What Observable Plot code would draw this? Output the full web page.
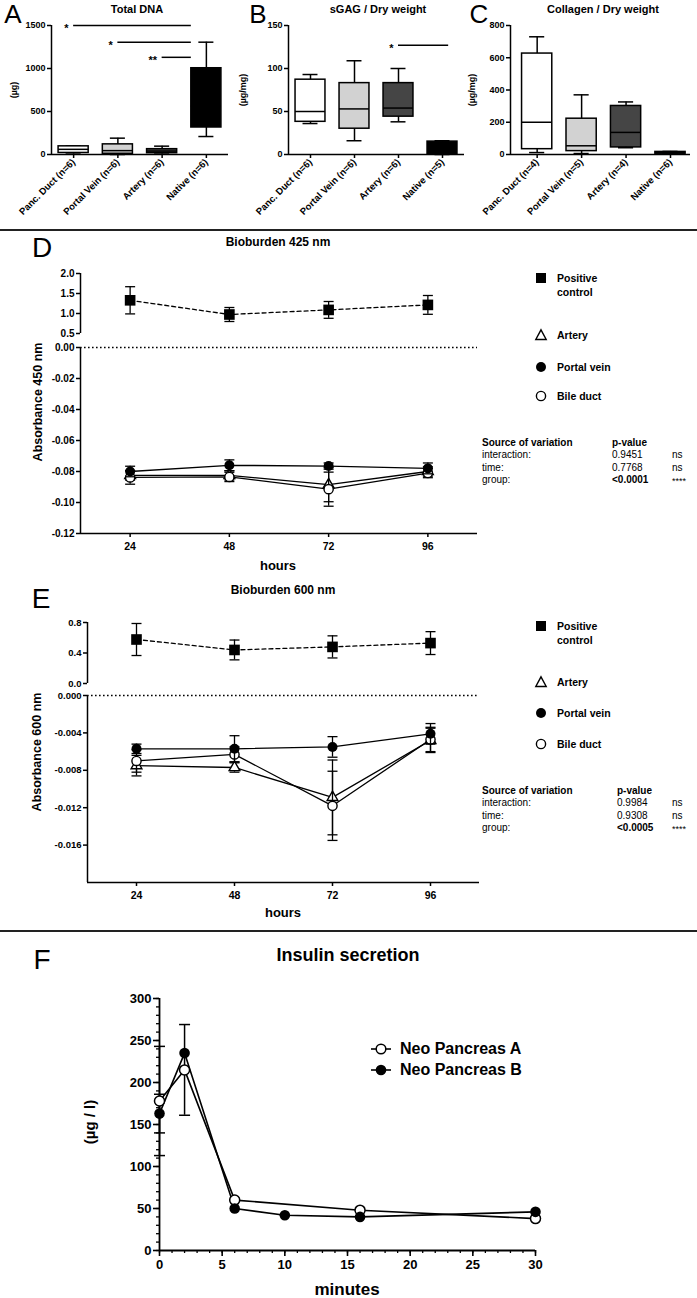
<!DOCTYPE html>
<html><head><meta charset="utf-8">
<script src="https://cdn.jsdelivr.net/npm/d3@7"></script>
<script src="https://cdn.jsdelivr.net/npm/@observablehq/plot@0.6"></script>
<style>
body{margin:0;background:#fff;}
#root{position:relative;width:697px;height:1298px;overflow:hidden;background:#fff;}
</style></head>
<body><div id="root"></div>
<script>
// ---------- DATA ----------
const groups = ["Panc. Duct", "Portal Vein", "Artery", "Native"];
const boxFills = ["#ffffff", "#d2d2d2", "#454545", "#000000"];

// A: Total DNA (µg)
const nA = [6, 6, 6, 6];
const dnaMin = [5, 0, 5, 209];
const dnaQ1 = [18, 8, 15, 314];
const dnaMed = [60, 45, 40, 560];
const dnaQ3 = [95, 118, 62, 1003];
const dnaMax = [100, 190, 97, 1306];
const sigAFrom = ["Panc. Duct", "Portal Vein", "Artery"];
const sigATo = ["Native", "Native", "Native"];
const sigAY = [1500, 1305, 1130];
const sigALabel = ["*", "*", "**"];

// B: sGAG / dry weight (µg/mg)
const nB = [6, 6, 6, 5];
const gagMin = [36, 16, 38, 0];
const gagQ1 = [38, 30, 44, 0];
const gagMed = [50, 53, 54, 13];
const gagQ3 = [87, 83, 83, 15];
const gagMax = [93, 109, 100, 16];
const sigBFrom = ["Artery"];
const sigBTo = ["Native"];
const sigBY = [127];
const sigBLabel = ["*"];

// C: Collagen / dry weight (µg/mg)
const nC = [4, 5, 4, 6];
const colMin = [12, 6, 42, 3];
const colQ1 = [33, 21, 44, 5];
const colMed = [200, 54, 137, 10];
const colQ3 = [626, 222, 301, 16];
const colMax = [730, 370, 326, 19];

// D & E: bioburden
const hours = [24, 48, 72, 96];
const seriesNames = ["Positive control", "Artery", "Portal vein", "Bile duct"];
const d425Pos = [1.33, 0.975, 1.09, 1.215];
const d425PosErr = [0.34, 0.175, 0.21, 0.235];
const d425Artery = [-0.0825, -0.0825, -0.0885, -0.080];
const d425ArteryErr = [0.003, 0.003, 0.011, 0.003];
const d425Portal = [-0.080, -0.076, -0.0765, -0.078];
const d425PortalErr = [0.0034, 0.0035, 0.002, 0.0035];
const d425Bile = [-0.0838, -0.0835, -0.0914, -0.081];
const d425BileErr = [0.0044, 0.003, 0.011, 0.003];

const e600Pos = [0.577, 0.44, 0.48, 0.53];
const e600PosErr = [0.21, 0.13, 0.145, 0.15];
const e600Artery = [-0.0075, -0.0077, -0.0109, -0.0048];
const e600ArteryErr = [0.0011, 0.0005, 0.004, 0.0013];
const e600Portal = [-0.0057, -0.0057, -0.0055, -0.0041];
const e600PortalErr = [0.0005, 0.0014, 0.0011, 0.0011];
const e600Bile = [-0.0070, -0.0063, -0.0118, -0.0047];
const e600BileErr = [0.0012, 0.0008, 0.0037, 0.0013];

const anovaSources = ["interaction:", "time:", "group:"];
const anovaDp = ["0.9451", "0.7768", "<0.0001"];
const anovaDsig = ["ns", "ns", "****"];
const anovaEp = ["0.9984", "0.9308", "<0.0005"];
const anovaEsig = ["ns", "ns", "****"];

// F: insulin secretion
const minutesA = [0, 2, 6, 16, 30];
const insulinA = [178, 215, 60, 48, 38];
const insulinAErr = [65, 54, 0, 0, 0];
const minutesB = [0, 2, 6, 10, 16, 30];
const insulinB = [163, 235, 50, 42, 40, 46];
const insulinBErr = [23, 0, 0, 0, 0, 0];
const insulinNames = ["Neo Pancreas A", "Neo Pancreas B"];

// ---------- HELPERS ----------
const FONT = '"Liberation Sans", Arial, Helvetica, sans-serif';
const root = document.getElementById("root");
function place(node, left, top) {
  node.style.position = "absolute";
  node.style.left = left + "px";
  node.style.top = top + "px";
  root.appendChild(node);
}
function txt(text, x, y, o = {}) {
  const d = document.createElement("div");
  d.textContent = text;
  Object.assign(d.style, {
    position: "absolute", left: x + "px", top: y + "px", whiteSpace: "nowrap",
    fontFamily: FONT, fontSize: (o.size || 10) + "px", fontWeight: o.weight || "bold",
    lineHeight: "1", color: "#000",
    transform: `translate(${o.ax ?? -50}%, -50%)` + (o.rot ? ` rotate(${o.rot}deg)` : "")
  });
  root.appendChild(d);
  return d;
}
function hline(y, h) {
  const d = document.createElement("div");
  Object.assign(d.style, {position: "absolute", left: "0px", width: "697px", top: y + "px", height: h + "px", background: "#222"});
  root.appendChild(d);
}
function icon(kind, cx, cy) {
  const ns = "http://www.w3.org/2000/svg";
  const s = document.createElementNS(ns, "svg");
  const W = kind.startsWith("line") ? 24 : 14;
  s.setAttribute("width", W); s.setAttribute("height", 14);
  s.style.position = "absolute"; s.style.left = (cx - W / 2) + "px"; s.style.top = (cy - 7) + "px";
  let inner = "";
  if (kind === "square") inner = `<rect x="2" y="2" width="10" height="10" fill="#000"/>`;
  if (kind === "triangle") inner = `<path d="M7,1.8 L12.2,11.5 L1.8,11.5 Z" fill="#fff" stroke="#000" stroke-width="1.4"/>`;
  if (kind === "dot") inner = `<circle cx="7" cy="7" r="5" fill="#000"/>`;
  if (kind === "circle") inner = `<circle cx="7" cy="7" r="4.6" fill="#fff" stroke="#000" stroke-width="1.4"/>`;
  if (kind === "lineCircle") inner = `<line x1="2" x2="22" y1="7" y2="7" stroke="#000" stroke-width="1.6"/><circle cx="12" cy="7" r="4.8" fill="#fff" stroke="#000" stroke-width="1.5"/>`;
  if (kind === "lineDot") inner = `<line x1="2" x2="22" y1="7" y2="7" stroke="#000" stroke-width="1.6"/><circle cx="12" cy="7" r="5.3" fill="#000"/>`;
  s.innerHTML = inner;
  root.appendChild(s);
}
const capSymbol = {draw(ctx, size) { const w = Math.sqrt(size / Math.PI); ctx.moveTo(-w, 0); ctx.lineTo(w, 0); }};
const baseStyle = (fs) => `background:transparent;overflow:visible;font-family:${FONT};font-size:${fs}px;font-weight:bold;color:#000;`;

// ---------- TOP ROW: BOX PLOTS ----------
function boxPanel(cfg) {
  const rows = groups.map((g, i) => ({i, min: cfg.mins[i], q1: cfg.q1s[i], med: cfg.meds[i], q3: cfg.q3s[i], max: cfg.maxs[i], fill: boxFills[i]}));
  const hw = 0.34, cw = 0.17;
  const sig = (cfg.sigFrom || []).map((f, k) => ({x1: groups.indexOf(f), x2: groups.indexOf(cfg.sigTo[k]) + cfg.sigEnd, y: cfg.sigY[k], label: cfg.sigLabel[k]}));
  const p = Plot.plot({
    width: cfg.width, height: 215,
    marginLeft: cfg.marginLeft, marginRight: cfg.marginRight, marginTop: 25, marginBottom: 61,
    style: baseStyle(9),
    x: {domain: cfg.xDomain}, y: {domain: [0, cfg.yMax]},
    color: {type: "identity"},
    marks: [
      Plot.ruleX(rows, {x: "i", y1: "min", y2: "max", strokeWidth: 1.5}),
      Plot.ruleY(rows, {x1: d => d.i - cw, x2: d => d.i + cw, y: "max", strokeWidth: 1.5}),
      Plot.ruleY(rows, {x1: d => d.i - cw, x2: d => d.i + cw, y: "min", strokeWidth: 1.5}),
      Plot.rectY(rows, {x1: d => d.i - hw, x2: d => d.i + hw, y1: "q1", y2: "q3", fill: "fill", stroke: "#000", strokeWidth: 1.5}),
      Plot.ruleY(rows, {x1: d => d.i - hw, x2: d => d.i + hw, y: "med", strokeWidth: 1.5}),
      Plot.ruleY(sig, {x1: "x1", x2: "x2", y: "y", strokeWidth: 1.5}),
      Plot.text(sig, {x: "x1", y: "y", text: "label", textAnchor: "end", dx: -5, dy: 3, fontSize: 11}),
      Plot.axisY({ticks: cfg.yTicks, tickFormat: d => String(d), tickSize: 4, tickPadding: 2, label: null, strokeWidth: 1.5}),
      Plot.axisX({ticks: [0, 1, 2, 3], tickFormat: i => `${groups[i]} (n=${cfg.ns[i]})`, tickRotate: -45, tickSize: 4, tickPadding: 2, label: null, fontSize: 9.5, strokeWidth: 1.5}),
      Plot.ruleY([0], {strokeWidth: 1.5}),
      Plot.ruleX([cfg.xDomain[0]], {strokeWidth: 1.5})
    ]
  });
  place(p, cfg.left, 0);
}
boxPanel({left: 0, width: 232, marginLeft: 51, marginRight: 4, xDomain: [-0.5, 3.5], yMax: 1500, yTicks: [0, 500, 1000, 1500],
  mins: dnaMin, q1s: dnaQ1, meds: dnaMed, q3s: dnaQ3, maxs: dnaMax, ns: nA,
  sigFrom: sigAFrom, sigTo: sigATo, sigY: sigAY, sigLabel: sigALabel, sigEnd: -0.34});
boxPanel({left: 232, width: 232, marginLeft: 56, marginRight: 0, xDomain: [-0.5, 3.5], yMax: 150, yTicks: [0, 50, 100, 150],
  mins: gagMin, q1s: gagQ1, meds: gagMed, q3s: gagQ3, maxs: gagMax, ns: nB,
  sigFrom: sigBFrom, sigTo: sigBTo, sigY: sigBY, sigLabel: sigBLabel, sigEnd: 0.14});
boxPanel({left: 464, width: 233, marginLeft: 46, marginRight: 7, xDomain: [-0.6, 3.45], yMax: 800, yTicks: [0, 200, 400, 600, 800],
  mins: colMin, q1s: colQ1, meds: colMed, q3s: colQ3, maxs: colMax, ns: nC});

txt("A", 13, 14, {size: 26, weight: "normal"});
txt("B", 258, 14, {size: 26, weight: "normal"});
txt("C", 479, 14, {size: 26, weight: "normal"});
txt("Total DNA", 137, 9, {size: 11});
txt("sGAG / Dry weight", 378, 9, {size: 11});
txt("Collagen / Dry weight", 603, 9, {size: 11});
txt("(µg)", 14, 90, {size: 9, rot: -90});
txt("(µg/mg)", 243, 90, {size: 9, rot: -90});
txt("(µg/mg)", 472, 90, {size: 9, rot: -90});
hline(229, 2);

// ---------- D / E : BROKEN-AXIS LINE CHARTS ----------
function rowsOf(xs, ys, es) { return xs.map((x, k) => ({x, y: ys[k], e: es[k]})); }
function seriesMarks(rows, symbol, fill, r, dash) {
  return [
    Plot.line(rows, {x: "x", y: "y", stroke: "#000", strokeWidth: 1.3, strokeDasharray: dash || null}),
    Plot.ruleX(rows, {x: "x", y1: d => d.y - d.e, y2: d => d.y + d.e, strokeWidth: 1.3}),
    Plot.dot(rows, {x: "x", y: d => d.y + d.e, symbol: capSymbol, r: 5, stroke: "#000", strokeWidth: 1.3}),
    Plot.dot(rows, {x: "x", y: d => d.y - d.e, symbol: capSymbol, r: 5, stroke: "#000", strokeWidth: 1.3}),
    Plot.dot(rows, {x: "x", y: "y", symbol, r, fill, stroke: "#000", strokeWidth: fill === "#000" ? 0 : 1.4})
  ];
}
function brokenPanel(cfg) {
  const top = Plot.plot({
    width: 490, height: cfg.topH, marginLeft: cfg.mL, marginRight: 490 - cfg.xEnd, marginTop: 10, marginBottom: 10,
    style: baseStyle(cfg.fs),
    x: {domain: [12, 108], axis: null}, y: {domain: cfg.topDomain},
    marks: [
      Plot.axisY({ticks: cfg.topTicks, tickFormat: d => d.toFixed(1), tickSize: 4, tickPadding: 2, label: null, strokeWidth: 1.5}),
      Plot.ruleX([12], {strokeWidth: 1.5}),
      ...seriesMarks(rowsOf(hours, cfg.pos, cfg.posErr), "square", "#000", 6, "4,3")
    ]
  });
  place(top, 0, cfg.topY);
  const bot = Plot.plot({
    width: 490, height: cfg.botH, marginLeft: cfg.mL, marginRight: 490 - cfg.xEnd, marginTop: 10, marginBottom: cfg.botMB,
    style: baseStyle(cfg.fs),
    x: {domain: [12, 108]}, y: {domain: cfg.botDomain},
    marks: [
      Plot.axisY({ticks: cfg.botTicks, tickFormat: d => d.toFixed(cfg.dec), tickSize: 4, tickPadding: 2, label: null, strokeWidth: 1.5}),
      Plot.axisX({ticks: hours, tickSize: 4, tickPadding: 5, label: null, strokeWidth: 1.5, fontSize: 10.5}),
      Plot.ruleX([12], {strokeWidth: 1.5}),
      Plot.ruleY([cfg.botDomain[0]], {strokeWidth: 1.5}),
      Plot.ruleY([0], {strokeWidth: 1.6, strokeDasharray: "1.6,2.4"}),
      ...seriesMarks(rowsOf(hours, cfg.art, cfg.artErr), "triangle", "#fff", 4),
      ...seriesMarks(rowsOf(hours, cfg.bile, cfg.bileErr), "circle", "#fff", 4.6),
      ...seriesMarks(rowsOf(hours, cfg.por, cfg.porErr), "circle", "#000", 5)
    ]
  });
  place(bot, 0, cfg.botY);
}
brokenPanel({topY: 263, topH: 80, botY: 337, botH: 243, botMB: 47, mL: 80, xEnd: 477, fs: 10,
  topDomain: [0.5, 2.0], topTicks: [0.5, 1.0, 1.5, 2.0], botDomain: [-0.12, 0], botTicks: [0, -0.02, -0.04, -0.06, -0.08, -0.10, -0.12], dec: 2,
  pos: d425Pos, posErr: d425PosErr, art: d425Artery, artErr: d425ArteryErr, por: d425Portal, porErr: d425PortalErr, bile: d425Bile, bileErr: d425BileErr});
brokenPanel({topY: 612, topH: 81, botY: 685, botH: 245, botMB: 48, mL: 87, xEnd: 479, fs: 9.5,
  topDomain: [0, 0.8], topTicks: [0, 0.4, 0.8], botDomain: [-0.02, 0], botTicks: [0, -0.004, -0.008, -0.012, -0.016], dec: 3,
  pos: e600Pos, posErr: e600PosErr, art: e600Artery, artErr: e600ArteryErr, por: e600Portal, porErr: e600PortalErr, bile: e600Bile, bileErr: e600BileErr});

function legendAndTable(cfg) {
  icon("square", 541, cfg.ly[0]);
  txt("Positive", 557, cfg.ly[0], {size: 10.5, ax: 0});
  txt("control", 557, cfg.ly[0] + 14, {size: 10.5, ax: 0});
  icon("triangle", 541, cfg.ly[1]);
  txt(seriesNames[1], 557, cfg.ly[1], {size: 10.5, ax: 0});
  icon("dot", 541, cfg.ly[2]);
  txt(seriesNames[2], 557, cfg.ly[2], {size: 10.5, ax: 0});
  icon("circle", 541, cfg.ly[3]);
  txt(seriesNames[3], 557, cfg.ly[3], {size: 10.5, ax: 0});
  txt("Source of variation", 482, cfg.ty, {size: 10, ax: 0});
  txt("p-value", cfg.px, cfg.ty, {size: 10, ax: 0});
  anovaSources.forEach((s, k) => {
    const y = cfg.ty + 12.3 * (k + 1);
    txt(s, 482, y, {size: 10, weight: "normal", ax: 0});
    txt(cfg.p[k], cfg.px, y, {size: 10, weight: cfg.p[k].startsWith("<") ? "bold" : "normal", ax: 0});
    const star = cfg.sig[k] !== "ns";
    txt(cfg.sig[k], 672, star ? y + 1 : y, {size: star ? 9 : 10, weight: "normal", ax: 0});
  });
}
txt("D", 42, 248, {size: 28, weight: "normal"});
txt("Bioburden 425 nm", 278, 242, {size: 12});
txt("Absorbance 450 nm", 38, 402, {size: 12.5, rot: -90});
txt("hours", 278, 565, {size: 13});
legendAndTable({ly: [278, 335, 367, 396], ty: 443, px: 612, p: anovaDp, sig: anovaDsig});

txt("E", 41, 599, {size: 28, weight: "normal"});
txt("Bioburden 600 nm", 283, 590, {size: 12});
txt("Absorbance 600 nm", 37, 752, {size: 12.5, rot: -90});
txt("hours", 283, 912, {size: 13});
legendAndTable({ly: [626, 682, 713, 744], ty: 791, px: 617, p: anovaEp, sig: anovaEsig});
hline(930, 2);

// ---------- F : INSULIN ----------
const rowsA = rowsOf(minutesA, insulinA, insulinAErr);
const rowsB = rowsOf(minutesB, insulinB, insulinBErr);
const fPlot = Plot.plot({
  width: 560, height: 318, marginLeft: 159, marginRight: 25, marginTop: 18, marginBottom: 48,
  style: baseStyle(13),
  x: {domain: [0, 30]}, y: {domain: [0, 300]},
  marks: [
    Plot.axisY({ticks: d3.range(0, 301, 10), tickSize: 3, tickFormat: () => "", label: null, strokeWidth: 1.3}),
    Plot.axisY({ticks: d3.range(0, 301, 50), tickSize: 6, tickPadding: 2, label: null, strokeWidth: 1.6}),
    Plot.axisX({ticks: d3.range(0, 31, 1), tickSize: 3, tickFormat: () => "", label: null, strokeWidth: 1.3}),
    Plot.axisX({ticks: d3.range(0, 31, 5), tickSize: 6, tickPadding: 3, label: null, strokeWidth: 1.6}),
    Plot.ruleX([0], {strokeWidth: 1.8}),
    Plot.ruleY([0], {strokeWidth: 1.8}),
    Plot.line(rowsA, {x: "x", y: "y", strokeWidth: 1.6}),
    Plot.line(rowsB, {x: "x", y: "y", strokeWidth: 1.6}),
    Plot.ruleX(rowsA.filter(d => d.e > 0), {x: "x", y1: d => d.y - d.e, y2: d => d.y + d.e, strokeWidth: 1.5}),
    Plot.dot(rowsA.filter(d => d.e > 0), {x: "x", y: d => d.y + d.e, symbol: capSymbol, r: 5.5, stroke: "#000", strokeWidth: 1.5}),
    Plot.dot(rowsA.filter(d => d.e > 0), {x: "x", y: d => d.y - d.e, symbol: capSymbol, r: 5.5, stroke: "#000", strokeWidth: 1.5}),
    Plot.ruleX(rowsB.filter(d => d.e > 0), {x: "x", y1: d => d.y - d.e, y2: d => d.y + d.e, strokeWidth: 1.5}),
    Plot.dot(rowsB.filter(d => d.e > 0), {x: "x", y: d => d.y + d.e, symbol: capSymbol, r: 5.5, stroke: "#000", strokeWidth: 1.5}),
    Plot.dot(rowsB.filter(d => d.e > 0), {x: "x", y: d => d.y - d.e, symbol: capSymbol, r: 5.5, stroke: "#000", strokeWidth: 1.5}),
    Plot.dot(rowsA, {x: "x", y: "y", r: 5, fill: "#fff", stroke: "#000", strokeWidth: 1.5}),
    Plot.dot(rowsB, {x: "x", y: "y", r: 5.3, fill: "#000"})
  ]
});
place(fPlot, 0, 980);
txt("F", 42, 960, {size: 28, weight: "normal"});
txt("Insulin secretion", 348, 955, {size: 18});
txt("(µg / l)", 89, 1122, {size: 15, rot: -90});
txt("minutes", 347, 1289, {size: 17});
icon("lineCircle", 381, 1049);
txt(insulinNames[0], 400, 1049, {size: 16, ax: 0});
icon("lineDot", 381, 1070);
txt(insulinNames[1], 400, 1070, {size: 16, ax: 0});
</script>
</body></html>
